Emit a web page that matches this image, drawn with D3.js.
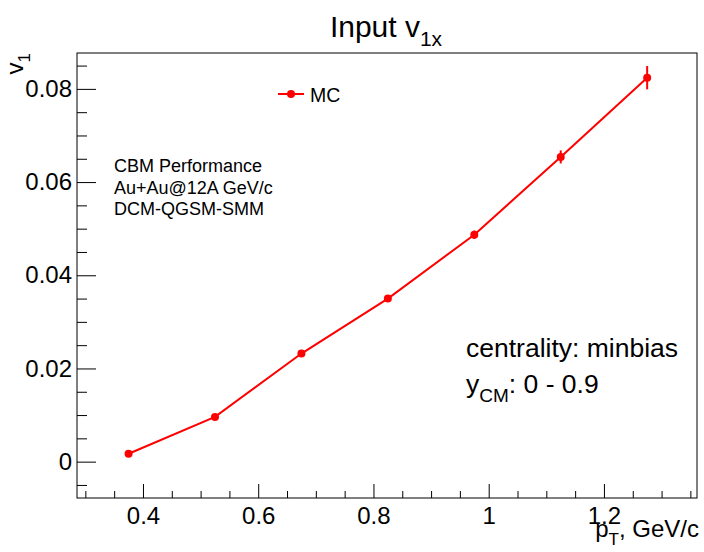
<!DOCTYPE html>
<html>
<head>
<meta charset="utf-8">
<script src="https://cdn.jsdelivr.net/npm/d3@7"></script>
<style>
  html, body { margin: 0; padding: 0; background: #fff; }
  text { font-family: "Liberation Sans", Arial, Helvetica, sans-serif; }
</style>
</head>
<body>
<div id="chart"></div>
<script>
// ---- data ----
const pt = [0.375, 0.525, 0.675, 0.825, 0.975, 1.125, 1.275];
const v1 = [0.0017, 0.0096, 0.0232, 0.0350, 0.0487, 0.0654, 0.0824];
const v1Err = [0.0005, 0.0005, 0.0007, 0.0007, 0.0009, 0.0014, 0.0025];
const xMajorTicks = [0.4, 0.6, 0.8, 1.0, 1.2];
const xTickLabels = ["0.4", "0.6", "0.8", "1", "1.2"];
const xMinorTicks = [0.3, 0.35, 0.45, 0.5, 0.55, 0.65, 0.7, 0.75, 0.85, 0.9, 0.95, 1.05, 1.1, 1.15, 1.25, 1.3, 1.35];
const yMajorTicks = [0, 0.02, 0.04, 0.06, 0.08];
const yTickLabels = ["0", "0.02", "0.04", "0.06", "0.08"];
const yMinorTicks = [-0.005, 0.005, 0.01, 0.015, 0.025, 0.03, 0.035, 0.045, 0.05, 0.055, 0.065, 0.07, 0.075, 0.085];
const infoLines = ["CBM Performance", "Au+Au@12A GeV/c", "DCM-QGSM-SMM"];

const W = 704, H = 552;
const frame = {left: 77, right: 697, top: 53, bottom: 498};
const red = "#ff0000";

const svg = d3.select("#chart").append("svg")
  .attr("width", W).attr("height", H)
  .style("display", "block");
svg.append("rect").attr("width", W).attr("height", H).attr("fill", "#fff");

const x = d3.scaleLinear().domain([0.2855, 1.3615]).range([frame.left, frame.right]);
const y = d3.scaleLinear().domain([-0.0078, 0.0877]).range([frame.bottom, frame.top]);

// frame
svg.append("rect")
  .attr("x", frame.left).attr("y", frame.top)
  .attr("width", frame.right - frame.left).attr("height", frame.bottom - frame.top)
  .attr("fill", "none").attr("stroke", "#000").attr("stroke-width", 1);

// x axis
const gx = svg.append("g").attr("transform", `translate(0,${frame.bottom})`)
  .call(d3.axisBottom(x).tickValues(xMajorTicks)
    .tickFormat((d, i) => xTickLabels[i])
    .tickSizeInner(-14).tickSizeOuter(0).tickPadding(9));
const gxm = svg.append("g").attr("transform", `translate(0,${frame.bottom})`)
  .call(d3.axisBottom(x).tickValues(xMinorTicks).tickFormat("")
    .tickSizeInner(-7).tickSizeOuter(0));

// y axis
const gy = svg.append("g").attr("transform", `translate(${frame.left},0)`)
  .call(d3.axisLeft(y).tickValues(yMajorTicks)
    .tickFormat((d, i) => yTickLabels[i])
    .tickSizeInner(-19).tickSizeOuter(0).tickPadding(5));
const gym = svg.append("g").attr("transform", `translate(${frame.left},0)`)
  .call(d3.axisLeft(y).tickValues(yMinorTicks).tickFormat("")
    .tickSizeInner(-10).tickSizeOuter(0));

[gx, gxm, gy, gym].forEach(g => {
  g.select(".domain").remove();
  g.selectAll("line").attr("stroke", "#000").attr("stroke-width", 1);
  g.selectAll("text").attr("fill", "#000")
    .style("font-family", '"Liberation Sans", Arial, sans-serif')
    .style("font-size", "24px");
});

// axis titles
const xt = svg.append("text")
  .attr("x", frame.right + 2).attr("y", 537)
  .attr("text-anchor", "end")
  .style("font-size", "24px").attr("fill", "#000");
xt.append("tspan").text("p");
xt.append("tspan").attr("dy", 8).style("font-size", "17px").text("T");
xt.append("tspan").attr("dy", -8).text(", GeV/c");

const yt = svg.append("text")
  .attr("transform", `translate(23,${frame.top}) rotate(-90)`)
  .attr("text-anchor", "end")
  .style("font-size", "24px").attr("fill", "#000");
yt.append("tspan").text("v");
yt.append("tspan").attr("dy", 7).style("font-size", "17px").text("1");

// title
const tt = svg.append("text")
  .attr("x", 386).attr("y", 37)
  .attr("text-anchor", "middle")
  .style("font-size", "30px").attr("fill", "#000");
tt.append("tspan").text("Input v");
tt.append("tspan").attr("dy", 9).style("font-size", "21px").text("1x");

// data line
const line = d3.line().x((d, i) => x(pt[i])).y(d => y(d));
svg.append("path").datum(v1)
  .attr("d", line)
  .attr("fill", "none").attr("stroke", red).attr("stroke-width", 2);

// error bars
svg.append("g").selectAll("line").data(v1).join("line")
  .attr("x1", (d, i) => x(pt[i])).attr("x2", (d, i) => x(pt[i]))
  .attr("y1", (d, i) => y(d - v1Err[i])).attr("y2", (d, i) => y(d + v1Err[i]))
  .attr("stroke", red).attr("stroke-width", 2);

// markers
svg.append("g").selectAll("circle").data(v1).join("circle")
  .attr("cx", (d, i) => x(pt[i])).attr("cy", d => y(d))
  .attr("r", 4).attr("fill", red);

// legend
const lg = svg.append("g");
lg.append("line").attr("x1", 278).attr("x2", 304).attr("y1", 94).attr("y2", 94)
  .attr("stroke", red).attr("stroke-width", 2);
lg.append("circle").attr("cx", 291).attr("cy", 94).attr("r", 4).attr("fill", red);
lg.append("text").attr("x", 310).attr("y", 101.5)
  .style("font-size", "19.5px").attr("fill", "#000").text("MC");

// info text
svg.append("g").selectAll("text").data(infoLines).join("text")
  .attr("x", 114).attr("y", (d, i) => 172 + i * 21.5)
  .style("font-size", "18px").attr("fill", "#000")
  .text(d => d);

svg.append("text").attr("x", 466).attr("y", 357)
  .style("font-size", "26.5px").attr("fill", "#000")
  .text("centrality: minbias");
const yc = svg.append("text").attr("x", 466).attr("y", 393)
  .style("font-size", "26.5px").attr("fill", "#000");
yc.append("tspan").text("y");
yc.append("tspan").attr("dy", 9).style("font-size", "19px").text("CM");
yc.append("tspan").attr("dy", -9).text(": 0 - 0.9");
</script>
</body>
</html>
